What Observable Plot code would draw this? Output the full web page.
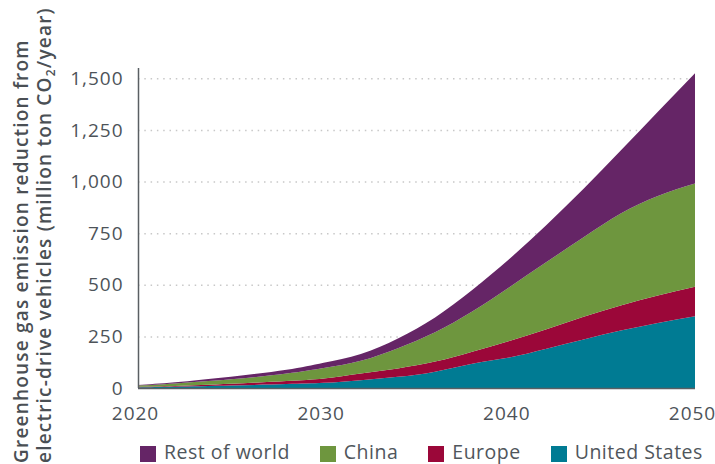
<!DOCTYPE html>
<html>
<head>
<meta charset="utf-8">
<script src="https://cdn.jsdelivr.net/npm/d3@7"></script>
<script src="https://cdn.jsdelivr.net/npm/@observablehq/plot@0.6"></script>
<style>
  html, body { margin: 0; padding: 0; background: #fff; }
  #wrap { position: relative; width: 715px; height: 464px; }
  #legend { position: absolute; left: 140px; top: 442px; display: flex; gap: 30px;
    font-family: "Open Sans", sans-serif; font-size: 19.5px; color: #50565c; letter-spacing: 0.5px; line-height: 20px; }
  #legend .item { display: flex; align-items: center; }
  #legend .sw { width: 16px; height: 16px; margin-right: 8px; margin-top: 4px; }
</style>
</head>
<body>
<div id="wrap"></div>
<script>
// ---- data ----
const years = [2020, 2022, 2025, 2028, 2030, 2032, 2034, 2036, 2038, 2040, 2042, 2044, 2046, 2048, 2050];
const unitedStates = [3, 6, 12, 19, 25, 38, 54, 79, 118, 148, 190, 235, 278, 315, 348];
const europe       = [3, 4, 8, 15, 21, 32, 41, 49, 58, 80, 95, 110, 122, 133, 142];
const china        = [6, 12, 22, 36, 51, 62, 98, 142, 194, 260, 325, 385, 445, 482, 500];
const restOfWorld  = [3, 6, 13, 18, 25, 33, 47, 72, 105, 137, 180, 235, 305, 408, 534];

const regions = ["Rest of world", "China", "Europe", "United States"];
const regionColors = ["#652566", "#6e963e", "#9b0739", "#007b93"];
const stackOrder = ["United States", "Europe", "China", "Rest of world"];
const xTicks = [2020, 2030, 2040, 2050];
const yTicks = [0, 250, 500, 750, 1000, 1250, 1500];
const titleLine1 = "Greenhouse gas emission reduction from";
const titleLine2a = "electric-drive vehicles (million ton CO";
const titleSub = "2";
const titleLine2b = "/year)";

const seriesByRegion = {
  "United States": unitedStates,
  "Europe": europe,
  "China": china,
  "Rest of world": restOfWorld
};
const table = [];
for (const r of stackOrder) {
  seriesByRegion[r].forEach((v, i) => table.push({ year: years[i], region: r, value: v }));
}

const chart = Plot.plot({
  width: 715,
  height: 464,
  marginTop: 68,
  marginBottom: 76,
  marginLeft: 138,
  marginRight: 20,
  style: { fontFamily: "Open Sans, sans-serif", fontSize: "19px", color: "#4d5359", background: "#fff" },
  x: { domain: [2020, 2050] },
  y: { domain: [0, 1550] },
  color: { domain: regions, range: regionColors },
  marks: [
    Plot.gridY(yTicks.filter(d => d > 0), { stroke: "#c8c8c8", strokeOpacity: 1, strokeWidth: 1.5, strokeDasharray: "1.5,4.8" }),
    Plot.areaY(table, { x: "year", y: "value", fill: "region", order: stackOrder, curve: "natural" }),
    Plot.ruleX([2020], { stroke: "#5a5f63", strokeWidth: 1.5 }),
    Plot.ruleY([0], { stroke: "#5a5f63", strokeWidth: 1.5 }),
    Plot.axisY({ ticks: yTicks, tickSize: 0, tickPadding: 15, tickFormat: d3.format(","), label: null }),
    Plot.axisX({ ticks: xTicks, tickSize: 0, tickPadding: 18, dx: -3, tickFormat: d => String(d), label: null })
  ]
});

const svg = d3.select(chart);
svg.selectAll("[aria-label='y-axis tick label'] text").attr("letter-spacing", "1px");
svg.selectAll("[aria-label='x-axis tick label'] text").attr("letter-spacing", "1px");
const g = svg.append("g")
  .attr("font-family", "Open Sans, sans-serif")
  .attr("font-weight", 600)
  .attr("font-size", 19)
  .attr("letter-spacing", "1.2px")
  .attr("text-anchor", "start")
  .attr("fill", "#4a4f54");
g.append("text").attr("transform", "translate(28,463) rotate(-90)").text(titleLine1);
const t2 = g.append("text").attr("transform", "translate(51,463) rotate(-90)");
t2.append("tspan").text(titleLine2a);
t2.append("tspan").attr("font-size", 12).attr("dy", 4).text(titleSub);
t2.append("tspan").attr("dy", -4).text(titleLine2b);

const wrap = document.getElementById("wrap");
wrap.appendChild(chart);

const legend = document.createElement("div");
legend.id = "legend";
regions.forEach((r, i) => {
  const item = document.createElement("div");
  item.className = "item";
  const sw = document.createElement("span");
  sw.className = "sw";
  sw.style.background = regionColors[i];
  const lab = document.createElement("span");
  lab.textContent = r;
  item.appendChild(sw);
  item.appendChild(lab);
  legend.appendChild(item);
});
wrap.appendChild(legend);
</script>
</body>
</html>
